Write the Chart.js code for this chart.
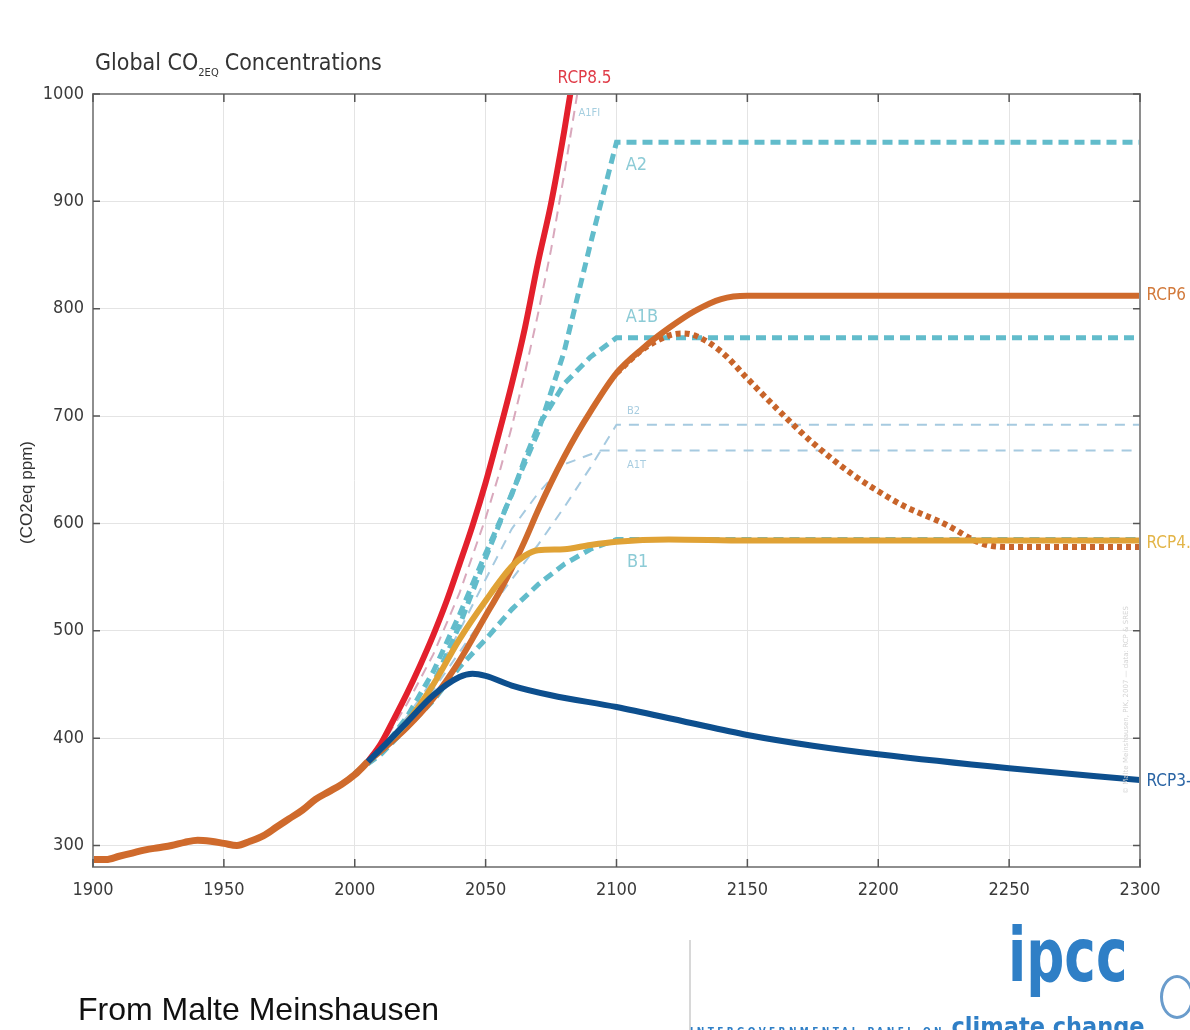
<!DOCTYPE html>
<html>
<head>
<meta charset="utf-8">
<title>Global CO2EQ Concentrations</title>
<script src="https://cdn.jsdelivr.net/npm/chart.js@4.4.1/dist/chart.umd.min.js"></script>
<style>
    html, body { margin: 0; padding: 0; background: #fff; }
    #wrap { position: relative; width: 1190px; height: 1030px; overflow: hidden; }
    #chart { position: absolute; left: 0; top: 0; }
    .title { position: absolute; left: 95px; top: 49px; font: 23px 'Liberation Sans Narrow', 'DejaVu Sans Condensed', sans-serif; color: #333; white-space: nowrap; }
    .title sub { font-size: 11px; vertical-align: -6px; margin-right: 6px; }
    .credit { position: absolute; left: 78px; top: 991px; font: 32px 'Liberation Sans', Arial, sans-serif; color: #111; white-space: nowrap; }
    .divider { position: absolute; left: 689px; top: 940px; width: 2px; height: 90px; background: #d8d8d8; }
    .ipcc { position: absolute; left: 1008px; top: 918px; font: bold 74px 'DejaVu Sans Condensed', sans-serif; color: #2f7fc6; line-height: 1; transform: scaleX(0.8); transform-origin: left top; }
    .panel { position: absolute; left: 690px; top: 1012px; white-space: nowrap; color: #2f7fc6; }
    .panel .small { font: bold 10px 'DejaVu Sans Condensed', sans-serif; letter-spacing: 3.4px; }
    .panel .big { font: bold 25px 'Liberation Sans Narrow', 'DejaVu Sans Condensed', sans-serif; }
    .emblem { position: absolute; left: 1160px; top: 975px; width: 34px; height: 44px; border: 3px solid #6a9ccc; border-radius: 50%; box-sizing: border-box; }
</style>
</head>
<body>
<div id="wrap">
    <canvas id="chart" width="1190" height="1030"></canvas>
    <div class="title">Global CO<sub>2EQ</sub>Concentrations</div>
    <div class="credit">From Malte Meinshausen</div>
    <div class="divider"></div>
    <div class="ipcc">ipcc</div>
    <div class="panel"><span class="small">INTERGOVERNMENTAL PANEL ON </span><span class="big">climate change</span></div>
    <div class="emblem"></div>
</div>
<script>
// Valores (ppm CO2eq)
const xTicks = [1900, 1950, 2000, 2050, 2100, 2150, 2200, 2250, 2300];
const yTicks = [300, 400, 500, 600, 700, 800, 900, 1000];

const histYears = [1900, 1905, 1910, 1915, 1920, 1925, 1930, 1935, 1940, 1945, 1950, 1955, 1960, 1965, 1970, 1975, 1980, 1985, 1990, 1995, 2000, 2005];
const histValues = [287, 287, 290, 293, 296, 298, 300, 303, 305, 304, 302, 300, 304, 309, 317, 325, 333, 343, 350, 357, 366, 378];

const rcp85Years = [2005, 2010, 2015, 2020, 2025, 2030, 2035, 2040, 2045, 2050, 2055, 2060, 2065, 2070, 2075, 2080, 2085];
const rcp85Values = [378, 395, 418, 442, 468, 496, 527, 562, 598, 638, 683, 730, 782, 843, 898, 965, 1040];

const rcp6Years = [2005, 2010, 2020, 2030, 2040, 2050, 2055, 2060, 2065, 2070, 2075, 2080, 2085, 2090, 2100, 2110, 2120, 2130, 2140, 2150, 2200, 2250, 2300];
const rcp6Values = [378, 388, 410, 437, 472, 514, 535, 558, 584, 612, 638, 662, 684, 704, 740, 763, 782, 798, 809, 812, 812, 812, 812];

const rcp6to45Years = [2100, 2110, 2120, 2125, 2130, 2140, 2150, 2160, 2175, 2190, 2200, 2210, 2225, 2240, 2250, 2275, 2300];
const rcp6to45Values = [740, 762, 775, 777, 775, 760, 735, 710, 675, 646, 630, 616, 600, 581, 578, 578, 578];

const rcp45Years = [2005, 2010, 2020, 2030, 2040, 2050, 2060, 2065, 2070, 2080, 2090, 2100, 2120, 2150, 2200, 2300];
const rcp45Values = [378, 390, 415, 450, 492, 528, 560, 570, 575, 576, 580, 583, 585, 584, 584, 584];

const rcp3Years = [2005, 2010, 2020, 2030, 2040, 2045, 2050, 2060, 2075, 2100, 2125, 2150, 2175, 2200, 2250, 2300];
const rcp3Values = [378, 390, 415, 440, 457, 460, 458, 449, 440, 429, 416, 403, 393, 385, 372, 361];

const a2Years = [2000, 2010, 2020, 2030, 2040, 2050, 2060, 2070, 2080, 2090, 2100, 2300];
const a2Values = [367, 385, 410, 450, 505, 568, 628, 685, 760, 860, 955, 955];

const a1bYears = [2000, 2010, 2020, 2030, 2040, 2050, 2060, 2065, 2070, 2080, 2090, 2100, 2300];
const a1bValues = [367, 388, 420, 462, 515, 572, 627, 660, 690, 730, 755, 773, 773];

const b1Years = [2000, 2010, 2020, 2030, 2040, 2050, 2060, 2070, 2080, 2090, 2100, 2300];
const b1Values = [367, 388, 410, 435, 466, 492, 520, 543, 562, 576, 585, 585];

const a1fiYears = [2000, 2010, 2020, 2030, 2040, 2050, 2055, 2060, 2065, 2070, 2075, 2080, 2085, 2090];
const a1fiValues = [367, 392, 432, 478, 535, 605, 645, 690, 740, 795, 855, 925, 1000, 1080];

const b2Years = [2000, 2010, 2020, 2030, 2040, 2050, 2060, 2070, 2080, 2090, 2100, 2300];
const b2Values = [367, 388, 415, 445, 480, 515, 548, 580, 615, 652, 692, 692];

const a1tYears = [2000, 2010, 2020, 2030, 2040, 2050, 2060, 2070, 2080, 2094, 2300];
const a1tValues = [367, 390, 420, 455, 500, 548, 595, 628, 655, 668, 668];

// Rótulos das curvas (posição em unidades do gráfico)
const curveLabels = [
    { text: 'RCP8.5', x: 2077.5, y: 1014, color: '#e03c48', size: 17 },
    { text: 'A1FI', x: 2085.5, y: 982, color: '#a6cfe0', size: 11 },
    { text: 'A2', x: 2103.5, y: 934, color: '#8ccbd6', size: 18 },
    { text: 'A1B', x: 2103.5, y: 792, color: '#8ccbd6', size: 18 },
    { text: 'B2', x: 2104, y: 705, color: '#a8cde0', size: 11 },
    { text: 'A1T', x: 2104, y: 654, color: '#a8cde0', size: 11 },
    { text: 'B1', x: 2104, y: 564, color: '#8ccbd6', size: 18 },
    { text: 'RCP6', x: 2302.5, y: 812, color: '#d27a3c', size: 17 },
    { text: 'RCP4.5', x: 2302.5, y: 581, color: '#e3b548', size: 17 },
    { text: 'RCP3-PD', x: 2302.5, y: 360, color: '#2a64a4', size: 17 }
];

const condensed = "'Liberation Sans Narrow', 'DejaVu Sans Condensed', sans-serif";

function pontos(years, values) {
    return years.map((year, i) => ({ x: year, y: values[i] }));
}

function curva(years, values, color, width, dash, smooth) {
    return {
        data: pontos(years, values),
        borderColor: color,
        borderWidth: width,
        borderDash: dash || [],
        borderCapStyle: 'butt',
        pointRadius: 0,
        fill: false,
        clip: 0,
        tension: smooth ? 0.4 : 0,
        cubicInterpolationMode: smooth ? 'monotone' : 'default'
    };
}

// Moldura, marcas internas, rótulos e título do eixo y
const extras = {
    id: 'extras',
    afterDraw(chart) {
        const { ctx, chartArea: a, scales: { x, y } } = chart;
        ctx.save();

        ctx.strokeStyle = '#8e8e8e';
        ctx.lineWidth = 2;
        ctx.strokeRect(a.left, a.top, a.right - a.left, a.bottom - a.top);

        ctx.strokeStyle = '#555';
        ctx.lineWidth = 1.5;
        ctx.beginPath();
        xTicks.forEach(t => {
            const px = x.getPixelForValue(t);
            ctx.moveTo(px, a.bottom); ctx.lineTo(px, a.bottom - 8);
            ctx.moveTo(px, a.top); ctx.lineTo(px, a.top + 8);
        });
        yTicks.forEach(t => {
            const py = y.getPixelForValue(t);
            ctx.moveTo(a.left, py); ctx.lineTo(a.left + 7, py);
            ctx.moveTo(a.right, py); ctx.lineTo(a.right - 7, py);
        });
        ctx.stroke();

        ctx.textBaseline = 'middle';
        ctx.textAlign = 'left';
        curveLabels.forEach(l => {
            ctx.font = l.size + 'px ' + condensed;
            ctx.fillStyle = l.color;
            ctx.fillText(l.text, x.getPixelForValue(l.x), y.getPixelForValue(l.y));
        });

        // título do eixo y
        ctx.translate(27, (a.top + a.bottom) / 2 + 12);
        ctx.rotate(-Math.PI / 2);
        ctx.textAlign = 'center';
        ctx.font = "17px 'Liberation Sans', Arial, sans-serif";
        ctx.fillStyle = '#333';
        ctx.fillText('(CO2eq ppm)', 0, 0);
        ctx.restore();

        // nota de copyright vertical
        ctx.save();
        ctx.translate(a.right - 12, 700);
        ctx.rotate(-Math.PI / 2);
        ctx.textAlign = 'center';
        ctx.font = "7px 'DejaVu Sans', sans-serif";
        ctx.fillStyle = '#d4d4d4';
        ctx.fillText('© Malte Meinshausen, PIK, 2007 — data: RCP & SRES', 0, 0);
        ctx.restore();
    }
};

document.addEventListener('DOMContentLoaded', function() {
    const teal = '#62bccb';
    const thin = '#a6cae0';

    const datasets = [
        curva(histYears, histValues, '#cf6a2c', 7, null, true),
        curva(rcp3Years, rcp3Values, '#0d4f8e', 6, null, true),
        curva(rcp85Years, rcp85Values, '#e3202c', 6, null, true),
        curva(rcp45Years, rcp45Values, '#e0a235', 6, null, true),
        curva(rcp6Years, rcp6Values, '#cf6a2c', 6, null, true),
        curva(rcp6to45Years, rcp6to45Values, '#c8642a', 6, [5, 4], true),
        curva(a2Years, a2Values, teal, 5, [10, 6], false),
        curva(a1bYears, a1bValues, teal, 5, [10, 6], false),
        curva(b1Years, b1Values, teal, 5, [10, 6], false),
        curva(a1fiYears, a1fiValues, '#d9a8bc', 2, [10, 7], false),
        curva(b2Years, b2Values, thin, 2, [10, 8], false),
        curva(a1tYears, a1tValues, thin, 2, [10, 8], false)
    ];

    new Chart(document.getElementById('chart'), {
        type: 'line',
        data: { datasets: datasets },
        options: {
            responsive: false,
            animation: false,
            events: [],
            layout: { padding: { top: 94, right: 50, left: 0, bottom: 0 } },
            plugins: { legend: { display: false }, title: { display: false }, tooltip: { enabled: false } },
            scales: {
                x: {
                    type: 'linear',
                    min: 1900,
                    max: 2300,
                    afterBuildTicks: scale => { scale.ticks = xTicks.map(v => ({ value: v })); },
                    afterFit: scale => { scale.height = 1030 - 867; },
                    grid: { color: '#e4e4e4', lineWidth: 1, drawTicks: false },
                    border: { display: false },
                    ticks: { color: '#3a3a3a', padding: 13, maxRotation: 0, callback: v => String(v), font: { family: condensed, size: 18 } }
                },
                y: {
                    min: 280,
                    max: 1000,
                    afterBuildTicks: scale => { scale.ticks = yTicks.map(v => ({ value: v })); },
                    afterFit: scale => { scale.width = 93; },
                    grid: { color: '#e4e4e4', lineWidth: 1, drawTicks: false },
                    border: { display: false },
                    ticks: { color: '#3a3a3a', padding: 9, callback: v => String(v), font: { family: condensed, size: 18 } }
                }
            }
        },
        plugins: [extras]
    });
});
</script>
</body>
</html>
